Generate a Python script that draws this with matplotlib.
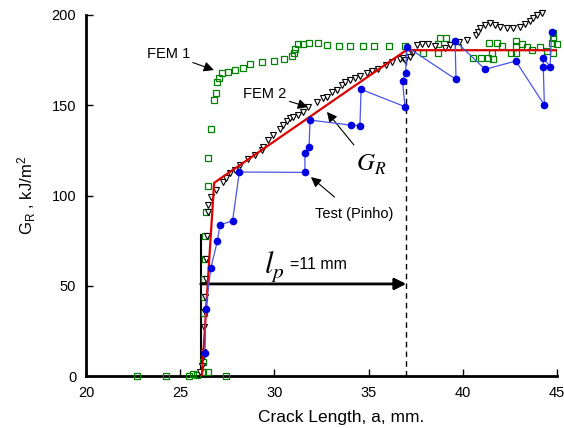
"""
plot.py - curva R (G_R x comprimento de trinca): ensaio (Pinho), FEM 1, FEM 2
e a curva G_R idealizada, com a indicacao de l_p = 11 mm.
"""
import matplotlib

matplotlib.use("Agg")
import matplotlib.pyplot as plt

plt.rcParams["font.family"] = ["Liberation Sans", "DejaVu Sans"]
plt.rcParams["mathtext.fontset"] = "stix"
plt.rcParams["mathtext.default"] = "regular"

# Ensaio (Pinho) - pontos na ordem em que sao ligados
TESTE_A = [26.32, 26.35, 26.63, 26.97, 27.11, 27.78, 28.14, 31.62, 31.62, 31.84,
           31.89, 34.05, 34.54, 34.60, 36.93, 36.80, 36.97, 37.02, 39.64, 39.59,
           41.18, 42.81, 44.33, 44.27, 44.27, 44.63, 44.72]
TESTE_G = [12.5, 37.0, 60.0, 74.6, 83.7, 86.0, 113.0, 112.8, 123.7, 126.7,
           141.8, 139.0, 138.7, 158.8, 149.2, 163.6, 168.0, 182.4, 164.3, 185.8,
           169.9, 174.5, 150.1, 171.4, 176.4, 171.4, 190.8]

# FEM 1 (quadrados verdes)
FEM1_A = [22.73, 24.23, 25.49, 25.70, 25.91, 26.49, 27.41, 26.23, 26.23, 26.25,
          26.25, 26.25, 26.30, 26.30, 26.35, 26.45, 26.49, 26.62, 26.79, 26.90,
          26.97, 27.07, 27.20, 27.52, 27.91, 28.32, 28.70, 29.32, 29.99, 30.51,
          30.92, 31.04, 31.09, 31.27, 31.53, 31.84, 32.30, 32.81, 33.45, 34.01,
          34.69, 35.30, 36.08, 36.93, 37.90, 38.67, 38.67, 38.79, 39.09, 39.76,
          40.56, 40.97, 41.35, 41.41, 41.57, 41.62, 41.80, 42.06, 42.56, 42.81,
          42.81, 42.85, 43.15, 43.39, 43.69, 44.10, 44.45, 44.77, 44.72, 44.77,
          45.00, 44.77]
FEM1_G = [0.0, 0.0, 0.0, 1.0, 0.5, 2.0, 0.0, 2.0, 8.0, 34.7,
          44.0, 53.7, 64.8, 77.6, 90.7, 105.3, 120.5, 136.6, 152.9, 156.6,
          163.0, 164.9, 167.6, 168.6, 169.5, 170.5, 172.6, 173.7, 174.6, 175.6,
          177.3, 179.1, 181.0, 183.7, 183.7, 184.6, 184.6, 183.4, 182.8, 182.8,
          182.8, 182.8, 182.8, 182.8, 178.7, 179.0, 183.7, 187.4, 187.4, 182.0,
          176.3, 176.3, 176.3, 184.6, 178.7, 175.4, 184.6, 182.8, 178.7, 185.6,
          182.8, 178.7, 183.7, 182.0, 180.6, 182.0, 179.8, 178.7, 184.6, 187.0,
          183.7, 189.8]

# FEM 2 (triangulos)
FEM2_A = [26.05, 26.14, 26.20, 26.22, 26.25, 26.30, 26.32, 26.35, 26.38, 26.40,
          26.45, 26.50, 26.63, 26.90, 27.29, 27.43, 27.64, 27.91, 28.17, 28.61,
          28.97, 29.32, 29.41, 29.68, 29.94, 30.30, 30.47, 30.65, 30.83, 31.00,
          31.27, 31.53, 31.80, 32.24, 32.60, 32.77, 33.04, 33.30, 33.57, 33.75,
          34.01, 34.28, 34.54, 34.90, 35.16, 35.51, 35.92, 36.23, 36.67, 36.84,
          36.93, 37.20, 37.28, 37.37, 37.55, 37.82, 38.17, 38.53, 39.06, 39.32,
          39.82, 40.24, 40.70, 40.82, 40.91, 41.18, 41.44, 41.71, 41.97, 42.33,
          42.68, 43.04, 43.30, 43.57, 43.74, 43.92, 44.18]
FEM2_G = [2.4, 5.5, 10.7, 13.5, 27.3, 35.3, 43.9, 53.7, 64.8, 77.6,
          90.7, 94.7, 99.3, 103.0, 107.7, 109.5, 112.2, 114.4, 116.9, 120.0,
          122.4, 125.2, 127.0, 130.7, 133.5, 136.7, 139.1, 141.3, 142.7, 143.6,
          144.6, 146.4, 149.2, 152.0, 153.8, 154.7, 157.5, 158.4, 161.2, 163.0,
          163.9, 164.9, 166.2, 167.6, 169.0, 169.9, 172.3, 174.1, 175.4, 176.0,
          175.0, 176.8, 178.7, 179.6, 183.4, 183.7, 183.7, 182.8, 181.5, 183.4,
          184.8, 186.1, 188.9, 190.8, 192.6, 194.5, 195.4, 194.5, 193.6, 192.6,
          192.6, 193.6, 194.9, 196.4, 198.3, 200.0, 200.9]

# Curva G_R idealizada
GR_A = [26.15, 26.80, 37.00, 45.00]
GR_G = [0.0, 107.0, 180.5, 180.5]

A_INICIO = 26.09   # inicio da zona de processo
A_FIM = 37.0       # a_inicio + l_p
G_SETA = 51.0

X_TICKS = [20, 25, 30, 35, 40, 45]
Y_TICKS = [0, 50, 100, 150, 200]


def seta(ax, texto, xy, xytext, **kw):
    ax.annotate(texto, xy=xy, xytext=xytext, fontsize=10.5,
                ha="right", va="center",
                arrowprops=dict(arrowstyle="-|>", color="black", lw=0.8,
                                mutation_scale=15, shrinkA=0, shrinkB=0), **kw)


def main():
    fig = plt.figure(figsize=(5.64, 4.28), dpi=100)
    ax = fig.add_axes([86 / 564, 1 - 376 / 428, 471 / 564, 361 / 428])

    ax.plot(FEM1_A, FEM1_G, ls="none", marker="s", ms=4.5, mfc="none",
            mec="#008000", mew=0.9, clip_on=False, zorder=3)
    ax.plot(FEM2_A, FEM2_G, ls="none", marker="v", ms=4.5, mfc="white",
            mec="black", mew=0.8, clip_on=False, zorder=3)
    ax.plot(GR_A, GR_G, color="#dd0000", lw=1.6, zorder=4)
    ax.plot(TESTE_A, TESTE_G, color="#4a55e8", lw=0.9, marker="o", ms=4.5,
            mfc="#0000e0", mec="#0000e0", clip_on=False, zorder=5)

    # l_p
    ax.plot([A_INICIO, A_INICIO], [0, 78], color="black", lw=1.5, zorder=2)
    ax.plot([A_FIM, A_FIM], [0, 180], color="black", lw=1, ls=(0, (4, 3)), zorder=2)
    ax.annotate("", xy=(A_FIM, G_SETA), xytext=(A_INICIO, G_SETA),
                arrowprops=dict(arrowstyle="-|>", color="black", lw=2,
                                mutation_scale=17, shrinkA=0, shrinkB=0))
    ax.text(29.45, 60.5, "$\\mathit{l}_\\mathit{p}$", fontsize=22, ha="left", va="center")
    ax.text(30.85, 61.5, "=11 mm", fontsize=11.5, ha="left", va="center")

    seta(ax, "FEM 1", xy=(26.79, 169.5), xytext=(25.52, 178.5))
    seta(ax, "FEM 2", xy=(31.78, 149.0), xytext=(30.65, 156.3))
    ax.annotate("Test (Pinho)", xy=(31.94, 110.2), xytext=(34.25, 89.8),
                fontsize=10.5, ha="center", va="center",
                arrowprops=dict(arrowstyle="-|>", color="black", lw=0.8,
                                mutation_scale=15, shrinkA=8, shrinkB=0))
    ax.annotate("", xy=(32.79, 146.3), xytext=(34.22, 128.0),
                arrowprops=dict(arrowstyle="-|>", color="black", lw=0.8,
                                mutation_scale=15, shrinkA=0, shrinkB=0))
    ax.text(34.35, 117, "$\\mathit{G}_\\mathit{R}$", fontsize=18, ha="left", va="center")

    ax.set_xlim(20, 45)
    ax.set_ylim(0, 200)
    ax.set_xticks(X_TICKS)
    ax.set_yticks(Y_TICKS)
    ax.tick_params(direction="in", length=5, width=1, labelsize=10.5)
    ax.tick_params(axis="x", pad=7)
    ax.tick_params(axis="y", pad=7)
    for lado in ("top", "right"):
        ax.spines[lado].set_visible(False)
    for lado in ("left", "bottom"):
        ax.spines[lado].set_linewidth(2)

    ax.set_xlabel("Crack Length, a, mm.", fontsize=12.5, labelpad=6)
    ax.xaxis.set_label_coords((341 - 86) / 471, -0.095)
    ax.set_ylabel("$G_R$ , kJ/m$^2$", fontsize=12, labelpad=10)

    fig.savefig("out.png", dpi=100)
    plt.close(fig)


if __name__ == "__main__":
    main()
